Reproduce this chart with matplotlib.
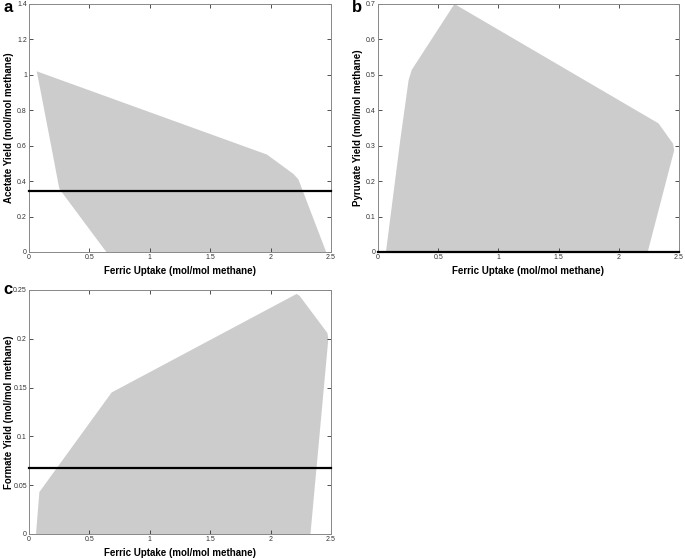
import numpy as np
import matplotlib
matplotlib.use("Agg")
import matplotlib.pyplot as plt
from matplotlib.ticker import FuncFormatter, MultipleLocator

# feasible region outlines (ferric uptake, yield)
acetate_x = [0.064, 0.09, 0.20, 0.25, 0.28, 0.64, 2.46, 2.23, 2.19, 1.97]
acetate_y = [1.02, 0.93, 0.54, 0.36, 0.33, 0.0, 0.0, 0.41, 0.44, 0.55]
acetate_obs = 0.345

pyruvate_x = [0.635, 0.28, 0.254, 0.185, 0.066, 2.24, 2.46, 2.45, 2.33]
pyruvate_y = [0.70, 0.514, 0.485, 0.316, 0.0, 0.0, 0.287, 0.306, 0.363]
pyruvate_obs = 0.0

formate_x = [0.058, 0.086, 0.684, 2.216, 2.24, 2.47, 2.478, 2.33]
formate_y = [0.0, 0.043, 0.145, 0.246, 0.244, 0.206, 0.20, 0.0]
formate_obs = 0.068

xlab = "Ferric Uptake (mol/mol methane)"
W, H = 685.0, 560.0

plt.rcParams['font.family'] = ['Liberation Sans', 'DejaVu Sans']
fig = plt.figure(figsize=(6.85, 5.6), dpi=100)

def ax_at(l, t, r, b):
    return fig.add_axes([l / W, 1 - b / H, (r - l) / W, (b - t) / H])

def panel(ax, xs, ys, obs, ymax, ystep, ylab, letter, lpos, xl_y, yl_x):
    ax.fill(xs, ys, color='#cccccc', lw=0)
    ax.axhline(obs, color='black', lw=1.6, zorder=3, clip_on=False)
    ax.set_xlim(0, 2.5)
    ax.set_ylim(0, ymax)
    ax.xaxis.set_major_locator(MultipleLocator(0.5))
    ax.yaxis.set_major_locator(MultipleLocator(ystep))
    fmt = FuncFormatter(lambda v, p: '%g' % round(v, 4))
    ax.xaxis.set_major_formatter(fmt)
    ax.yaxis.set_major_formatter(fmt)
    ax.tick_params(direction='in', top=True, right=True, length=3, width=0.6,
                   labelsize=5, colors='#333333', pad=1.5)
    for s in ax.spines.values():
        s.set_color('#888888')
        s.set_linewidth(0.7)
    ax.set_xlabel(xlab, fontsize=7, fontweight='bold')
    ax.set_ylabel(ylab, fontsize=7, fontweight='bold')
    ax.xaxis.set_label_coords(0.5, xl_y)
    ax.yaxis.set_label_coords(yl_x, 0.5)
    fig.text(lpos[0] / W, 1 - lpos[1] / H, letter, fontsize=12,
             fontweight='bold', ha='center', va='center')

axa = ax_at(29, 4, 331, 252)
panel(axa, acetate_x, acetate_y, acetate_obs, 1.4, 0.2,
      "Acetate Yield (mol/mol methane)", "a", (8, 7), -0.058, -0.05)

axb = ax_at(378, 4, 679, 252)
panel(axb, pyruvate_x, pyruvate_y, pyruvate_obs, 0.7, 0.1,
      "Pyruvate Yield (mol/mol methane)", "b", (357, 7), -0.058, -0.05)

axc = ax_at(29, 290, 331, 534)
panel(axc, formate_x, formate_y, formate_obs, 0.25, 0.05,
      "Formate Yield (mol/mol methane)", "c", (8, 289), -0.057, -0.05)

fig.savefig("out.png", dpi=100)
